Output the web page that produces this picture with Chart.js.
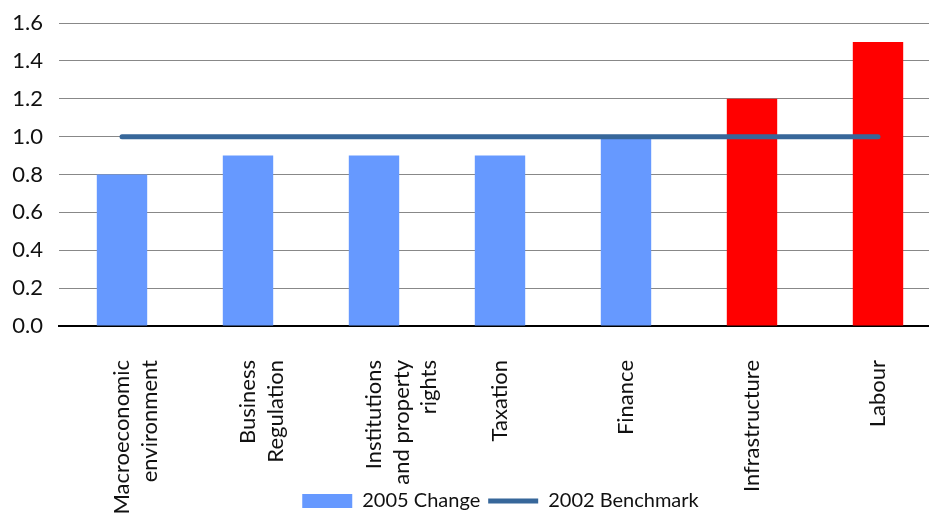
<!DOCTYPE html>
<html>
<head>
<meta charset="utf-8">
<script src="https://cdn.jsdelivr.net/npm/chart.js@4.4.1/dist/chart.umd.min.js"></script>
<style>
html,body{margin:0;padding:0;background:#fff;overflow:hidden;width:929px;height:513px;}
#wrap{position:absolute;left:0;top:0;width:941px;height:513px;}
</style>
</head>
<body>
<div id="wrap"><canvas id="c" width="941" height="513"></canvas></div>
<script>
const categories = [
  ["Macroeconomic", "environment"],
  ["Business", "Regulation"],
  ["Institutions", "and property", "rights"],
  ["Taxation"],
  ["Finance"],
  ["Infrastructure"],
  ["Labour"]
];
const change2005 = [0.8, 0.9, 0.9, 0.9, 1.0, 1.2, 1.5];
const benchmark2002 = [1, 1, 1, 1, 1, 1, 1];
const barColors = ["#6699FF", "#6699FF", "#6699FF", "#6699FF", "#6699FF", "#FF0000", "#FF0000"];
const yTicks = [0, 0.2, 0.4, 0.6, 0.8, 1.0, 1.2, 1.4, 1.6];

const FONT = "Lato, 'Open Sans', sans-serif";

// Let the rotated x labels run to the bottom edge (under the legend), and
// nudge the legend to where the reference has it.
const overlapLegend = {
  id: 'overlapLegend',
  afterLayout(chart) {
    chart.scales.x.bottom = chart.height;
    const lg = chart.legend;
    if (lg) {
      lg.left += 30; lg.right += 30;
      lg.top += 8; lg.bottom += 8;
    }
  }
};

new Chart(document.getElementById('c'), {
  data: {
    labels: categories,
    datasets: [
      {
        type: 'line',
        label: '2002 Benchmark',
        data: benchmark2002,
        borderColor: '#37679A',
        backgroundColor: '#37679A',
        borderWidth: 5,
        borderCapStyle: 'round',
        pointRadius: 0,
        pointStyle: 'line',
        order: 0
      },
      {
        type: 'bar',
        label: '2005 Change',
        data: change2005,
        backgroundColor: barColors,
        borderWidth: 0,
        barPercentage: 0.4,
        categoryPercentage: 1.0,
        pointStyle: 'rect',
        order: 1
      }
    ]
  },
  options: {
    responsive: false,
    animation: false,
    layout: { padding: { top: 23, left: 0, right: 0, bottom: 0 } },
    plugins: {
      tooltip: { enabled: false },
      legend: {
        position: 'bottom',
        reverse: true,
        labels: {
          usePointStyle: true,
          pointStyleWidth: 50,
          boxHeight: 14,
          padding: 8,
          color: '#111',
          font: { family: FONT, size: 20 }
        }
      }
    },
    scales: {
      x: {
        grid: { display: false },
        border: { display: true, color: '#000', width: 2 },
        ticks: {
          minRotation: 90,
          maxRotation: 90,
          autoSkip: false,
          padding: 26,
          color: '#111',
          font: { family: FONT, size: 22, lineHeight: 1.25 }
        },
        afterFit: (s) => { s.height = 149; s.paddingTop = 0; s.paddingLeft = 0; s.paddingRight = 0; }
      },
      y: {
        min: 0,
        max: 1.6,
        afterBuildTicks: (s) => { s.ticks = yTicks.map(v => ({ value: v })); },
        grid: { color: '#888', lineWidth: 1, drawTicks: false },
        border: { display: false },
        ticks: {
          padding: 16,
          color: '#111',
          font: { family: FONT, size: 22 },
          callback: (v) => Number(v).toFixed(1)
        },
        afterFit: (s) => { s.width = 59; s.paddingTop = 0; s.paddingBottom = 0; }
      }
    }
  },
  plugins: [overlapLegend]
});
</script>
</body>
</html>
